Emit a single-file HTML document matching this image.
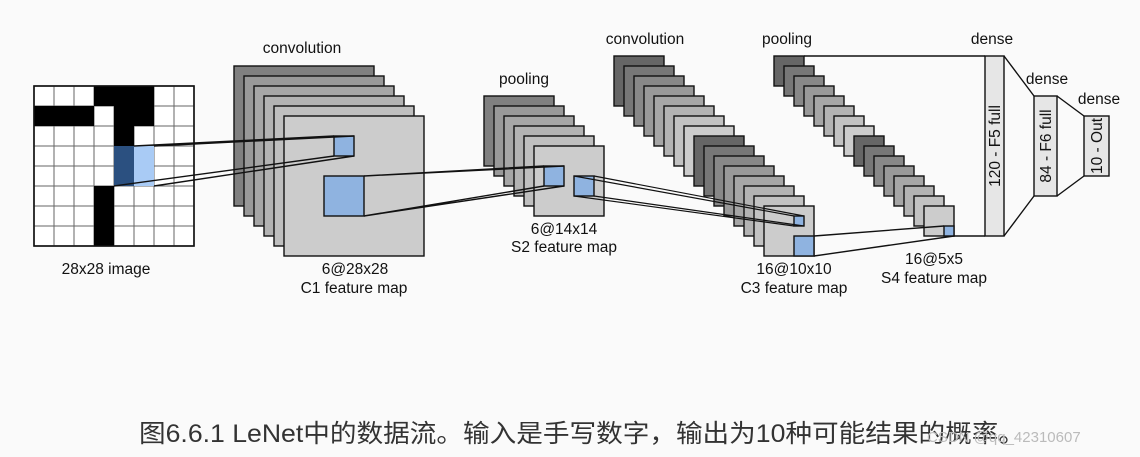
<!DOCTYPE html>
<html><head><meta charset="utf-8"><style>
html,body{margin:0;padding:0;background:#fafafa;}
svg{display:block}
text{font-family:"Liberation Sans","Noto Sans CJK SC",sans-serif;fill:#111}
</style></head><body>
<svg width="1140" height="457" viewBox="0 0 1140 457" xmlns="http://www.w3.org/2000/svg">
<rect width="1140" height="457" fill="#fafafa"/>
<g stroke="#111" stroke-width="1.4">
<!-- image grid -->
<rect x="34" y="86" width="160" height="160" fill="#fff"/>
<g stroke="#666" stroke-width="1">
<path d="M54 86V246M74 86V246M94 86V246M114 86V246M134 86V246M154 86V246M174 86V246M34 106H194M34 126H194M34 146H194M34 166H194M34 186H194M34 206H194M34 226H194"/>
</g>
<g fill="#000" stroke="none">
<rect x="94" y="86" width="60" height="20"/>
<rect x="34" y="106" width="60" height="20"/>
<rect x="114" y="106" width="40" height="20"/>
<rect x="114" y="126" width="20" height="20"/>
<rect x="94" y="186" width="20" height="60"/>
<rect x="114" y="146" width="20" height="40" fill="#2b5080"/>
<rect x="134" y="146" width="20" height="40" fill="#a9cbf5"/>
</g>
<rect x="34" y="86" width="160" height="160" fill="none" stroke-width="1.5"/>
<!-- C1 -->
<rect x="234" y="66" width="140" height="140" fill="#808080"/>
<rect x="244" y="76" width="140" height="140" fill="#999"/>
<rect x="254" y="86" width="140" height="140" fill="#a6a6a6"/>
<rect x="264" y="96" width="140" height="140" fill="#b3b3b3"/>
<rect x="274" y="106" width="140" height="140" fill="#bfbfbf"/>
<rect x="284" y="116" width="140" height="140" fill="#ccc"/>
<rect x="334" y="136" width="20" height="20" fill="#8fb3e0"/>
<rect x="324" y="176" width="40" height="40" fill="#8fb3e0"/>
<path d="M134 146L334 136M154 146L354 136M114 186L334 156M154 186L354 156" fill="none"/>
<!-- S2 -->
<rect x="484" y="96" width="70" height="70" fill="#808080"/>
<rect x="494" y="106" width="70" height="70" fill="#999"/>
<rect x="504" y="116" width="70" height="70" fill="#a6a6a6"/>
<rect x="514" y="126" width="70" height="70" fill="#b3b3b3"/>
<rect x="524" y="136" width="70" height="70" fill="#bfbfbf"/>
<rect x="534" y="146" width="70" height="70" fill="#ccc"/>
<rect x="544" y="166" width="20" height="20" fill="#8fb3e0"/>
<rect x="574" y="176" width="20" height="20" fill="#8fb3e0"/>
<path d="M364 176L544 166M364 216L544 186M364 216L564 186M364 176L564 166" fill="none"/>
<!-- C3 -->
<g>
<rect x="614" y="56" width="50" height="50" fill="#666"/>
<rect x="624" y="66" width="50" height="50" fill="#777"/>
<rect x="634" y="76" width="50" height="50" fill="#888"/>
<rect x="644" y="86" width="50" height="50" fill="#999"/>
<rect x="654" y="96" width="50" height="50" fill="#a6a6a6"/>
<rect x="664" y="106" width="50" height="50" fill="#b3b3b3"/>
<rect x="674" y="116" width="50" height="50" fill="#c2c2c2"/>
<rect x="684" y="126" width="50" height="50" fill="#ccc"/>
<rect x="694" y="136" width="50" height="50" fill="#666"/>
<rect x="704" y="146" width="50" height="50" fill="#777"/>
<rect x="714" y="156" width="50" height="50" fill="#888"/>
<rect x="724" y="166" width="50" height="50" fill="#999"/>
<rect x="734" y="176" width="50" height="50" fill="#a6a6a6"/>
<rect x="744" y="186" width="50" height="50" fill="#b3b3b3"/>
<rect x="754" y="196" width="50" height="50" fill="#c2c2c2"/>
<rect x="764" y="206" width="50" height="50" fill="#ccc"/>
</g>
<rect x="794" y="216" width="10" height="10" fill="#8fb3e0"/>
<rect x="794" y="236" width="20" height="20" fill="#8fb3e0"/>
<path d="M574 176L794 216M594 176L804 216M574 196L794 226M594 196L804 226" fill="none" stroke-width="1.2"/>
<!-- S4 -->
<g>
<rect x="774" y="56" width="30" height="30" fill="#666"/>
<rect x="784" y="66" width="30" height="30" fill="#777"/>
<rect x="794" y="76" width="30" height="30" fill="#888"/>
<rect x="804" y="86" width="30" height="30" fill="#999"/>
<rect x="814" y="96" width="30" height="30" fill="#a6a6a6"/>
<rect x="824" y="106" width="30" height="30" fill="#b3b3b3"/>
<rect x="834" y="116" width="30" height="30" fill="#c2c2c2"/>
<rect x="844" y="126" width="30" height="30" fill="#ccc"/>
<rect x="854" y="136" width="30" height="30" fill="#666"/>
<rect x="864" y="146" width="30" height="30" fill="#777"/>
<rect x="874" y="156" width="30" height="30" fill="#888"/>
<rect x="884" y="166" width="30" height="30" fill="#999"/>
<rect x="894" y="176" width="30" height="30" fill="#a6a6a6"/>
<rect x="904" y="186" width="30" height="30" fill="#b3b3b3"/>
<rect x="914" y="196" width="30" height="30" fill="#c2c2c2"/>
<rect x="924" y="206" width="30" height="30" fill="#ccc"/>
</g>
<rect x="944" y="226" width="10" height="10" fill="#8fb3e0"/>
<path d="M814 236L944 226M814 256L954 236" fill="none"/>
<path d="M804 56H985M954 236H985" fill="none"/>
<!-- dense -->
<rect x="985" y="56" width="19" height="180" fill="#e6e6e6"/>
<rect x="1034" y="96" width="23" height="100" fill="#e6e6e6"/>
<rect x="1084" y="116" width="25" height="60" fill="#e6e6e6"/>
<path d="M1004 56L1034 96M1004 236L1034 196M1057 96L1084 116M1057 196L1084 176" fill="none"/>
</g>
<g font-size="15.5">
<text x="302" y="53" text-anchor="middle">convolution</text>
<text x="524" y="84" text-anchor="middle">pooling</text>
<text x="645" y="44" text-anchor="middle">convolution</text>
<text x="787" y="44" text-anchor="middle">pooling</text>
<text x="992" y="44" text-anchor="middle">dense</text>
<text x="1047" y="84" text-anchor="middle">dense</text>
<text x="1099" y="104" text-anchor="middle">dense</text>
<text x="106" y="274" text-anchor="middle">28x28 image</text>
<text x="355" y="274" text-anchor="middle">6@28x28</text>
<text x="354" y="293" text-anchor="middle">C1 feature map</text>
<text x="564" y="234" text-anchor="middle">6@14x14</text>
<text x="564" y="252" text-anchor="middle">S2 feature map</text>
<text x="794" y="274" text-anchor="middle">16@10x10</text>
<text x="794" y="293" text-anchor="middle">C3 feature map</text>
<text x="934" y="264" text-anchor="middle">16@5x5</text>
<text x="934" y="283" text-anchor="middle">S4 feature map</text>
<text transform="translate(1000,146) rotate(-90)" text-anchor="middle">120 - F5 full</text>
<text transform="translate(1051,146) rotate(-90)" text-anchor="middle">84 - F6 full</text>
<text transform="translate(1102,146) rotate(-90)" text-anchor="middle">10 - Out</text>
</g>
<text x="139" y="442" font-size="25" style="fill:#333" textLength="886" lengthAdjust="spacingAndGlyphs">图6.6.1  LeNet中的数据流。输入是手写数字，输出为10种可能结果的概率。</text>
<text x="927" y="442" font-size="15" style="fill:#bbb">CSDN @qq_42310607</text>
</svg>
</body></html>
